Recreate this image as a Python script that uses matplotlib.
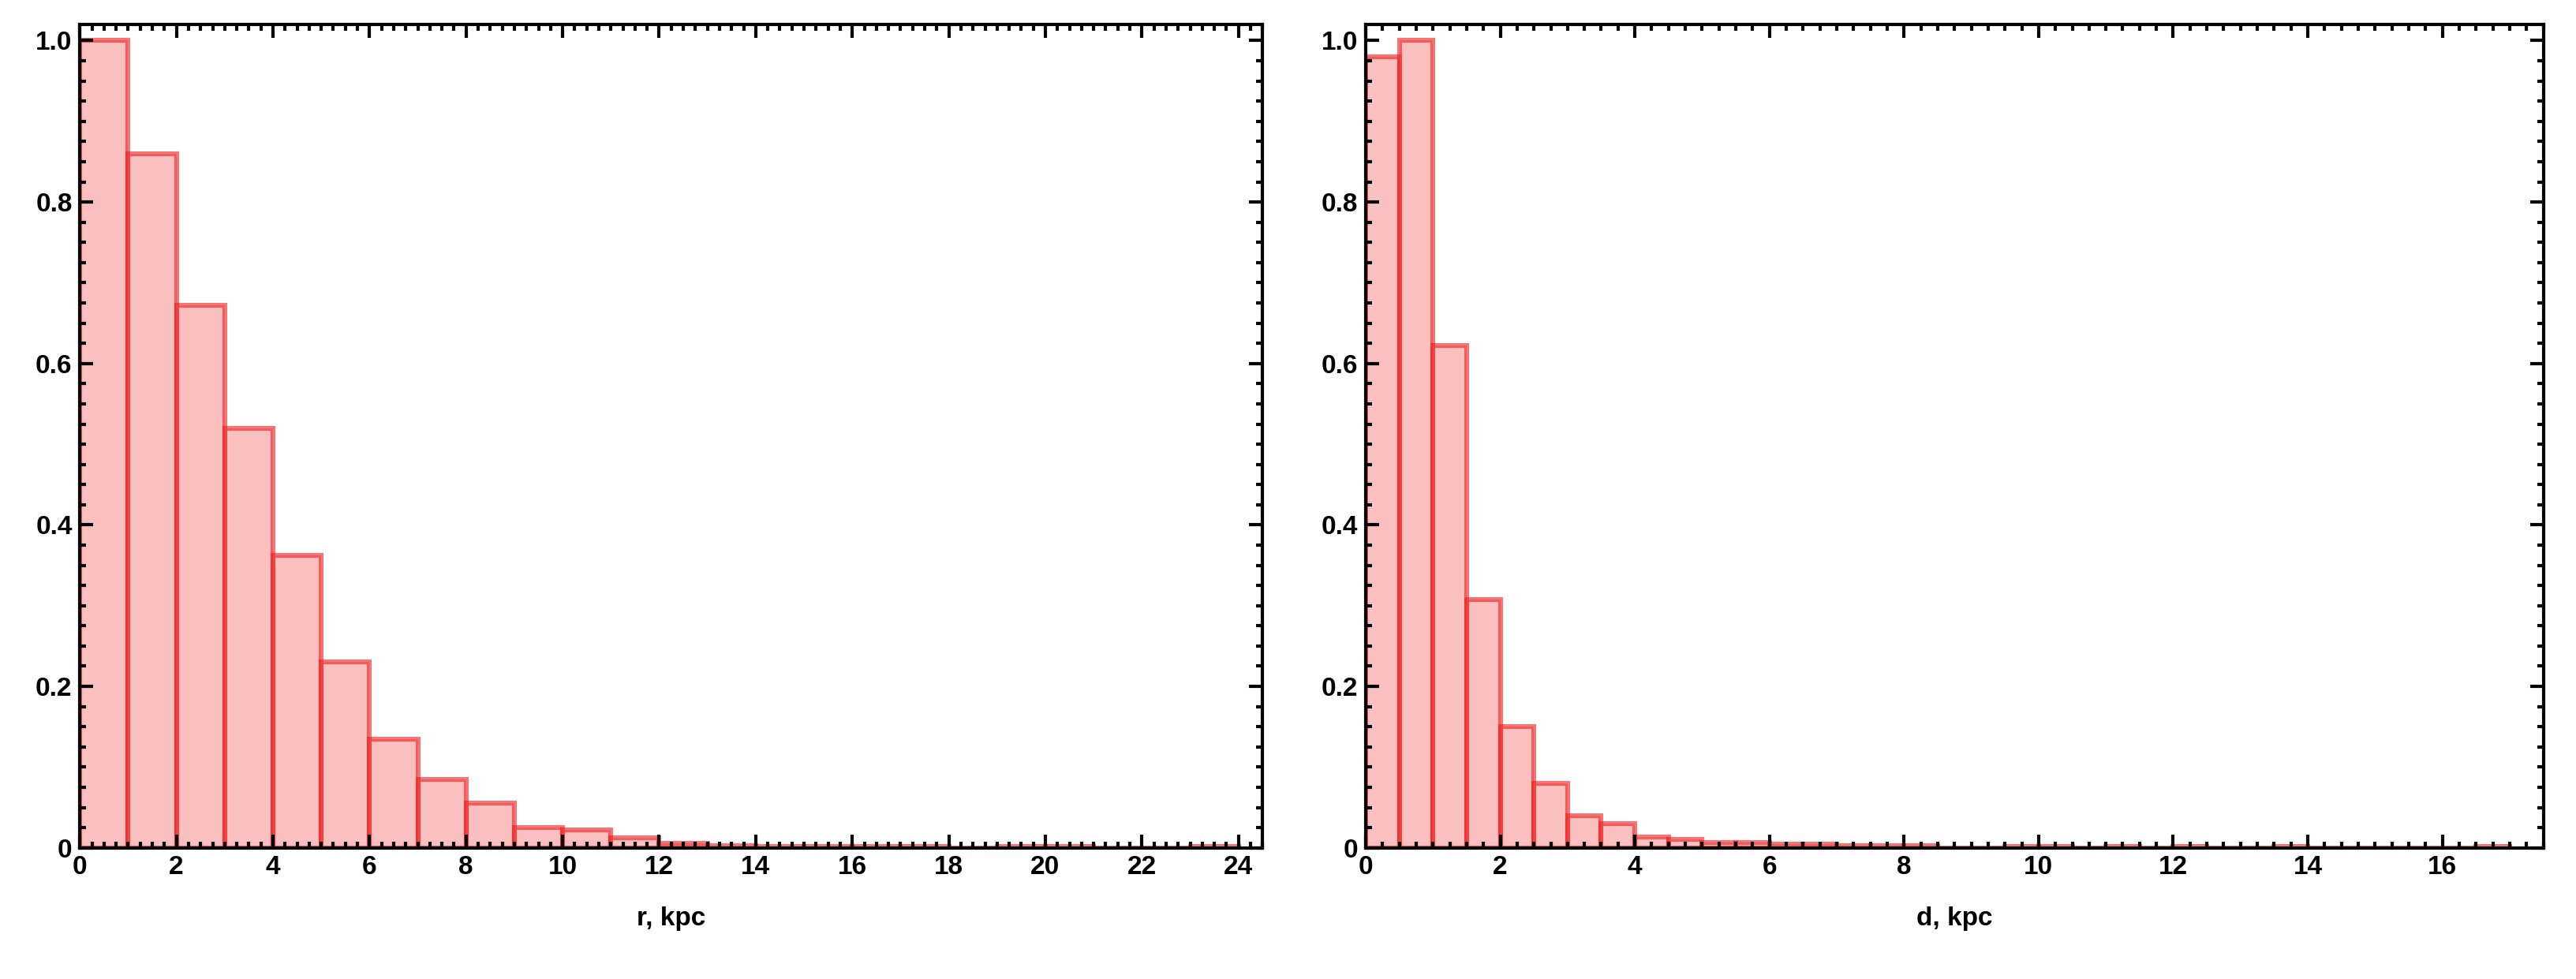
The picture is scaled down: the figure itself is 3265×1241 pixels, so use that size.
import matplotlib.pyplot as plt
import numpy as np
from matplotlib.ticker import MultipleLocator, FuncFormatter

plt.rcParams['font.family'] = ['Liberation Sans', 'DejaVu Sans']
plt.rcParams['font.weight'] = 'bold'

# histogramme en r (largeur de bin 1 kpc)
r_width = 1.0
r_heights = [1.0, 0.86, 0.672, 0.52, 0.362, 0.23, 0.135, 0.085, 0.055, 0.025,
             0.022, 0.012, 0.006, 0.003, 0.002, 0.002, 0.002, 0.002, 0.0,
             0.002, 0.002, 0.0, 0.0, 0.002]

# histogramme en d (largeur de bin 0.5 kpc)
d_width = 0.5
d_heights = [0.98, 1.0, 0.622, 0.308, 0.15, 0.08, 0.04, 0.03, 0.013, 0.01,
             0.007, 0.007, 0.005, 0.005, 0.003, 0.003, 0.003, 0.0, 0.0, 0.002,
             0.002, 0.0, 0.002, 0.0, 0.002, 0.0, 0.0, 0.002, 0.0, 0.0,
             0.0, 0.0, 0.0, 0.002]

fig = plt.figure(figsize=(16.33, 6.205), dpi=200)
ax1 = fig.add_axes([0.031, 0.134, 0.459, 0.841])
ax2 = fig.add_axes([0.530, 0.134, 0.457, 0.841])


def yfmt(v, pos):
    return "0" if abs(v) < 1e-9 else "%.1f" % v


def draw_hist(ax, width, heights, xmax, label):
    edges = np.arange(len(heights)) * width
    ax.bar(edges, heights, width=width, align='edge',
           facecolor=(0.97, 0.55, 0.55, 0.55),
           edgecolor=(0.93, 0.1, 0.1, 0.6), linewidth=2.2)
    ax.set_xlim(0, xmax)
    ax.set_ylim(0, 1.02)
    ax.xaxis.set_major_locator(MultipleLocator(2))
    ax.xaxis.set_minor_locator(MultipleLocator(0.25))
    ax.yaxis.set_major_locator(MultipleLocator(0.2))
    ax.yaxis.set_minor_locator(MultipleLocator(0.025))
    ax.yaxis.set_major_formatter(FuncFormatter(yfmt))
    ax.tick_params(which='both', direction='in', top=True, right=True,
                   labelsize=12, width=1.5)
    ax.tick_params(which='major', length=6)
    ax.tick_params(which='minor', length=3)
    for s in ax.spines.values():
        s.set_linewidth(1.5)
    ax.set_xlabel(label, fontsize=12, fontweight='bold', labelpad=12)


draw_hist(ax1, r_width, r_heights, 24.5, "r, kpc")
draw_hist(ax2, d_width, d_heights, 17.5, "d, kpc")

fig.savefig("out.png", dpi=200)
